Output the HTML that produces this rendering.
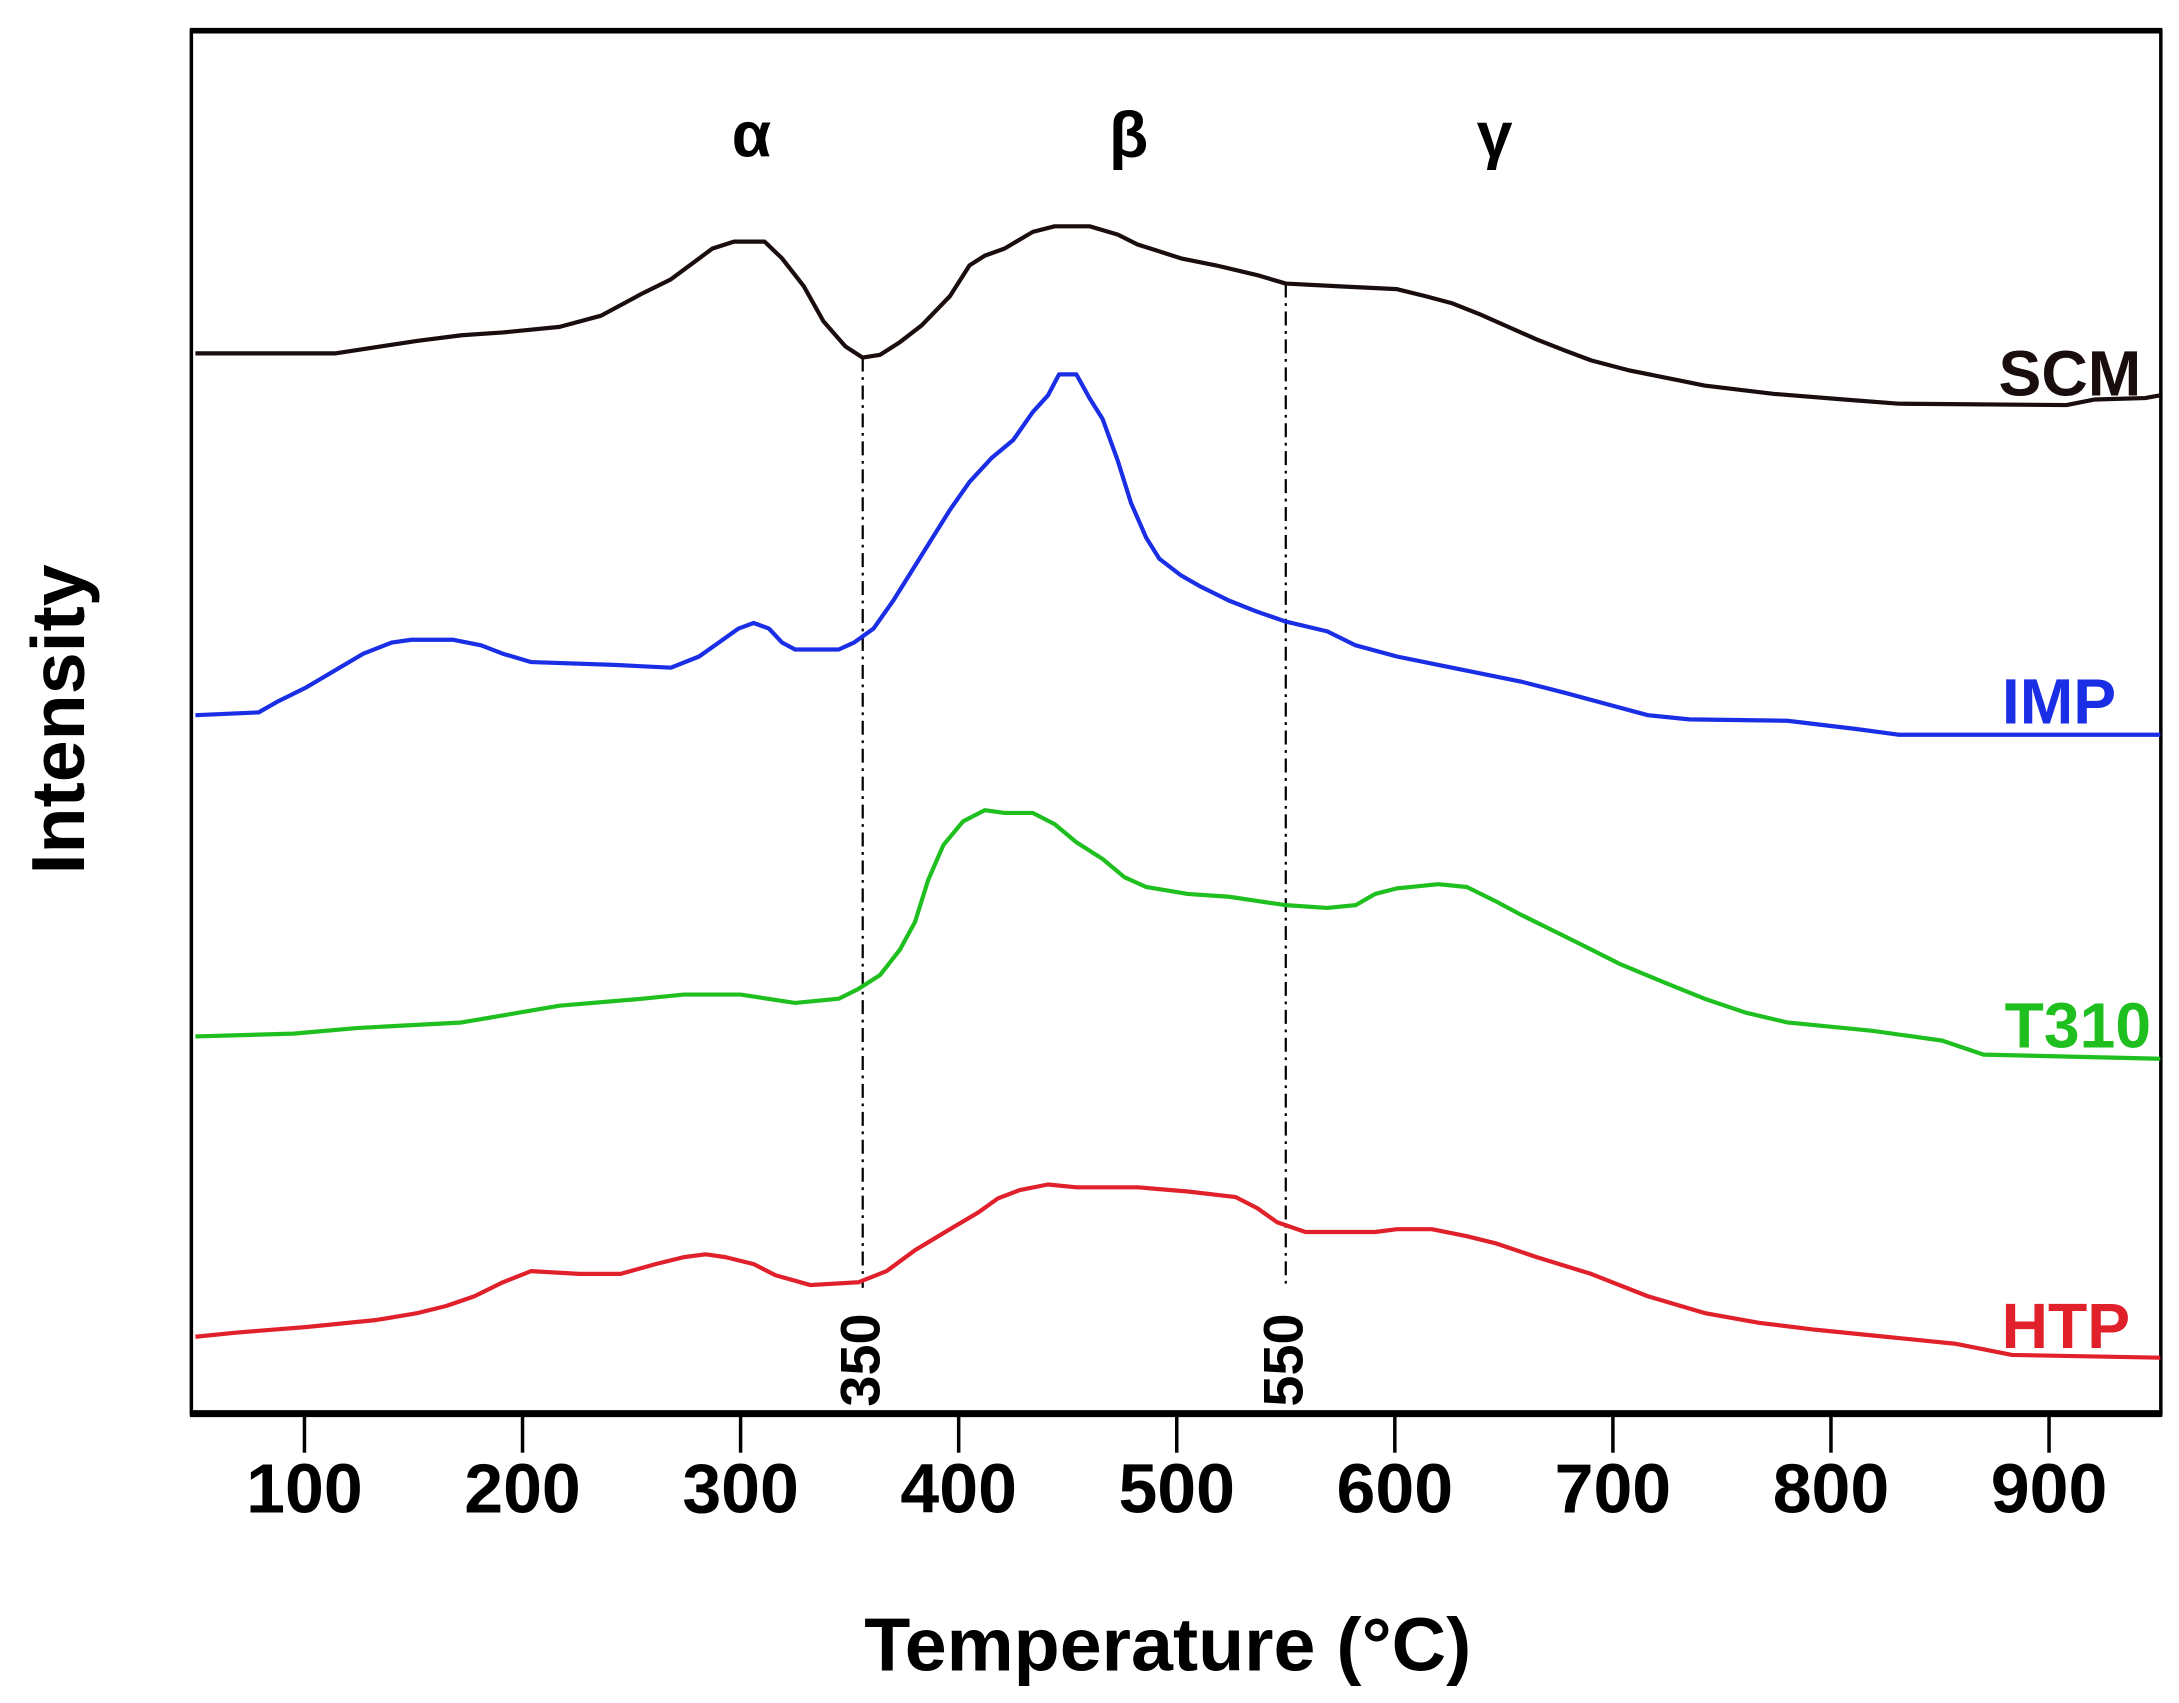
<!DOCTYPE html>
<html><head><meta charset="utf-8"><style>
html,body{margin:0;padding:0;background:#fff;}
svg{display:block;}
text{font-family:"Liberation Sans",Arial,sans-serif;font-weight:bold;}
</style></head><body>
<svg id="chart" width="2179" height="1703" viewBox="0 0 1560 1219.2" preserveAspectRatio="none" xmlns="http://www.w3.org/2000/svg">
<rect x="0" y="0" width="1560" height="1220" fill="#fff"/>
<g id="plot"></g>
</svg>
<script>
const xTicks = [100,200,300,400,500,600,700,800,900];
const scmT = [50,114,152,172,191,217,236,255,268,281,287,297,311,319,329,338,348,356,364,373,383,396,405,412,421,434,444,460,473,482,492,502,518,537,550,575,601,614,626,639,652,665,678,690,707,723,742,774,806,831,908,921,944,951];
const scmV = [759,759,768,772,774,778,786,802,812,827,834,839,839,827,807,782,764,756,758,767,779,800,822,829,834,846,850,850,844,837,832,827,822,815,809,807,805,800,795,787,778,769,761,754,747,742,736,730,726,723,722,726,727,729];
const impT = [50,79,88,101,114,127,140,149,168,181,191,204,242,268,281,290,299,306,313,319,325,345,352,361,370,380,388,396,405,415,425,434,441,446,454,460,466,473,479,486,492,502,511,524,537,550,569,582,601,620,639,658,678,697,716,735,780,812,831,951];
const impV = [500,502,510,520,532,544,552,554,554,550,544,538,536,534,542,552,562,566,562,552,547,547,552,562,582,607,627,647,667,684,697,717,729,744,744,727,712,682,652,627,612,600,592,582,574,567,560,550,542,536,530,524,516,508,500,497,496,490,486,486];
const t310T = [50,95,124,172,217,255,274,300,325,345,354,364,373,380,386,393,402,412,421,434,444,454,466,476,486,505,524,550,569,582,591,601,620,633,646,658,671,684,703,723,742,761,780,819,851,870,951];
const t310V = [270,272,276,280,292,297,300,300,294,297,304,314,332,352,382,407,424,432,430,430,422,409,397,384,377,372,370,364,362,364,372,376,379,377,367,357,347,337,322,309,297,287,280,274,267,257,254];
const htpT = [50,69,101,133,152,165,178,191,204,226,245,261,274,284,293,306,316,332,354,367,380,396,409,418,428,441,454,482,505,527,537,546,559,591,601,617,633,646,665,690,716,742,767,793,825,857,883,951];
const htpV = [55,58,62,67,72,77,84,94,102,100,100,107,112,114,112,107,99,92,94,102,117,132,144,154,160,164,162,162,159,155,147,137,130,130,132,132,127,122,112,100,84,72,65,60,55,50,42,40];
const series = [
  {name:'SCM', t:scmT, v:scmV, color:'#1a0d0d', lx:1533, ly:283},
  {name:'IMP', t:impT, v:impV, color:'#1a2ee6', lx:1515, ly:518},
  {name:'T310', t:t310T, v:t310V, color:'#1fbf1f', lx:1540, ly:750},
  {name:'HTP', t:htpT, v:htpV, color:'#e0202a', lx:1525, ly:965}
];
const markerT = [356,550];
const markerTop = [756,809];
const markerLabels = ['350','550'];

const L=137,R=1547,T=22,B=1012;
function xs(t){return 139.9+(t-50)*1.56125;}
function ys(v){return B-v;}
const NS='http://www.w3.org/2000/svg';
const g=document.getElementById('plot');
function mk(tag,attrs){const e=document.createElementNS(NS,tag);for(const k in attrs)e.setAttribute(k,attrs[k]);g.appendChild(e);return e;}

// frame
let fr=mk('rect',{x:L,y:T,width:R-L,height:B-T,fill:'none',stroke:'#000','stroke-width':2.5});


let bx=mk('line',{x1:L-1,x2:R+1,y1:B,y2:B,stroke:'#000','stroke-width':5});


let tx=mk('line',{x1:L-1,x2:R+1,y1:T,y2:T,stroke:'#000','stroke-width':4});



xTicks.forEach(t=>{
  const tk=mk('line',{x1:xs(t),x2:xs(t),y1:B,y2:B+28,stroke:'#000','stroke-width':2.5});
  
  
  const lb=mk('text',{x:xs(t),y:1083,'text-anchor':'middle','font-size':50});
  lb.textContent=t;
  
  
});

// markers
markerT.forEach((t,i)=>{
  const ln=mk('line',{x1:xs(t),x2:xs(t),y1:ys(markerTop[i]),y2:ys(90),stroke:'#000','stroke-width':1.6,'stroke-dasharray':'10,4,2,4'});
  
  
  const lb=mk('text',{x:0,y:0,'font-size':40,transform:'translate('+(xs(t)+12)+',1007) rotate(-90)'});
  lb.textContent=markerLabels[i];
  
  
});

series.forEach(s=>{
  const pts=s.t.map((t,i)=>xs(t).toFixed(1)+','+ys(s.v[i]).toFixed(1)).join(' ');
  const pl=mk('polyline',{points:pts,fill:'none',stroke:s.color,'stroke-width':3,'stroke-linejoin':'round'});
  
  
  const lb=mk('text',{x:s.lx,y:s.ly,'text-anchor':'end','font-size':46,fill:s.color});
  lb.textContent=s.name;
  
  
});

[['α',538],['β',808],['γ',1070]].forEach(([c,x])=>{
  const lb=mk('text',{x:x,y:112,'text-anchor':'middle','font-size':46});
  lb.textContent=c;
  
  
});

const xt=mk('text',{x:836,y:1196,'text-anchor':'middle','font-size':54});
xt.textContent='Temperature (°C)';


const yt=mk('text',{x:0,y:0,'text-anchor':'middle','font-size':54,transform:'translate(60,515) rotate(-90)'});
yt.textContent='Intensity';


</script>
</body></html>
